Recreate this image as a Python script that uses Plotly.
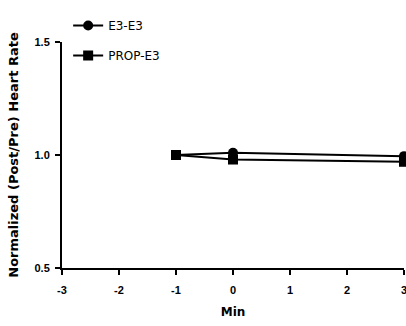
import plotly.graph_objects as go

minutes = [-1, 0, 3]
e3_e3 = [1.0, 1.01, 0.995]
prop_e3 = [1.0, 0.98, 0.97]
x_ticks = [-3, -2, -1, 0, 1, 2, 3]
y_ticks = [0.5, 1.0, 1.5]

fig = go.Figure()
fig.add_trace(go.Scatter(x=minutes, y=e3_e3, name="E3-E3", mode="lines+markers",
                         line=dict(color="black", width=2),
                         marker=dict(symbol="circle", size=10, color="black"),
                         legendgroup="a", cliponaxis=False))
fig.add_trace(go.Scatter(x=minutes, y=prop_e3, name="PROP-E3", mode="lines+markers",
                         line=dict(color="black", width=2),
                         marker=dict(symbol="square", size=10, color="black"),
                         legendgroup="b", cliponaxis=False))

tickfont = dict(family="Liberation Sans", size=11, color="black", weight="bold")
titlefont = dict(family="DejaVu Sans", size=12, color="black", weight="bold")
fig.update_layout(
    width=406, height=326,
    margin=dict(l=62, r=2, t=42, b=58, autoexpand=False),
    plot_bgcolor="white", paper_bgcolor="white",
    showlegend=True,
    legend=dict(x=0.018, y=1.137, xanchor="left", yanchor="top",
                font=dict(family="DejaVu Sans", size=12, color="black"),
                tracegroupgap=11, bgcolor="rgba(0,0,0,0)"),
    xaxis=dict(range=[-3, 3], tickvals=x_ticks, ticktext=[str(v) for v in x_ticks],
               automargin=False, ticklabeloverflow="allow", ticklabelstandoff=6,
               showgrid=False, zeroline=False, showline=True, linecolor="black", linewidth=2,
               ticks="outside", ticklen=5, tickwidth=2, tickcolor="black",
               tickfont=tickfont,
               title=dict(text="Min", font=titlefont, standoff=12)),
    yaxis=dict(range=[0.5, 1.5], tickvals=y_ticks, ticktext=["0.5", "1.0", "1.5"],
               automargin=False, ticklabeloverflow="allow", ticklabelstandoff=3,
               showgrid=False, zeroline=False, showline=True, linecolor="black", linewidth=2,
               ticks="outside", ticklen=5, tickwidth=2, tickcolor="black",
               tickfont=tickfont,
               title=dict(text="Normalized (Post/Pre) Heart Rate",
                          font=dict(family="DejaVu Sans", size=13, color="black", weight="bold"),
                          standoff=13)),
)
fig.write_html("out.html", config={"displayModeBar": False},
               post_script="document.body.style.margin='0';document.body.style.overflow='hidden';")
